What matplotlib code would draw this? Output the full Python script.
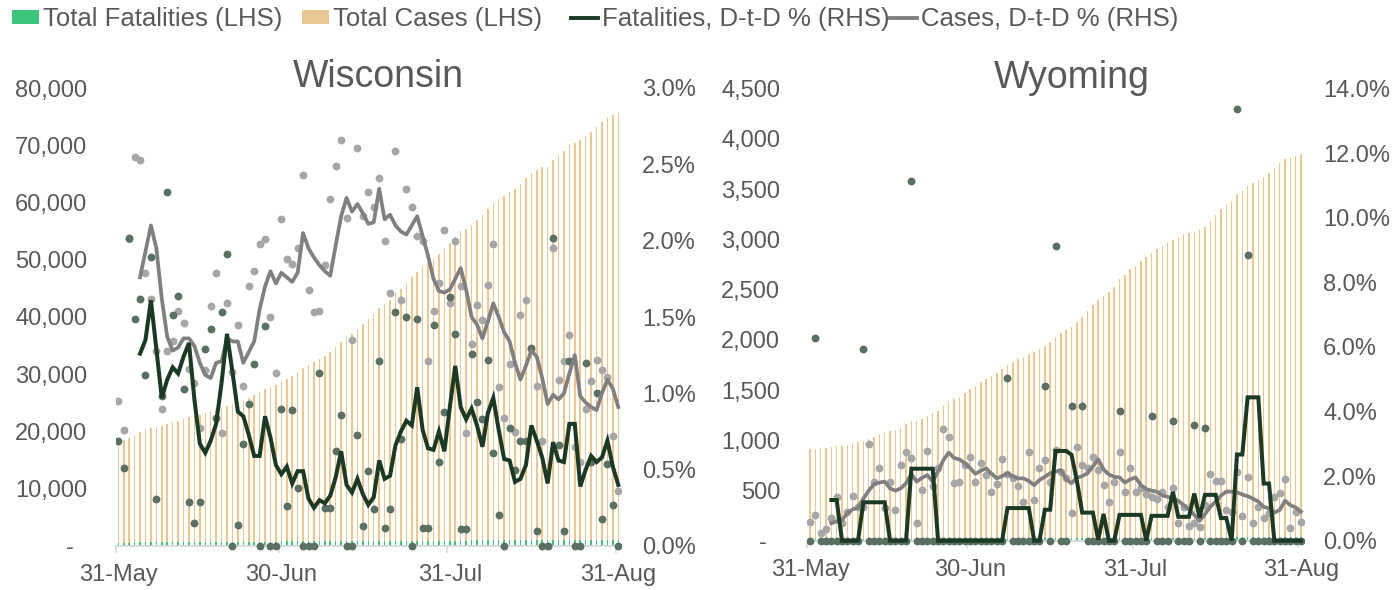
import numpy as np
import pandas as pd
import matplotlib
matplotlib.use("Agg")
import matplotlib.pyplot as plt
from matplotlib.ticker import FuncFormatter, MultipleLocator
from matplotlib.patches import Rectangle, Patch
from matplotlib.lines import Line2D

plt.rcParams['font.family'] = ['Liberation Sans', 'DejaVu Sans']

days = pd.date_range("2020-05-31", "2020-08-31", freq="D")
tick_days = pd.to_datetime(["2020-05-31", "2020-06-30", "2020-07-31", "2020-08-31"])

# ---- Wisconsin ----
wi_cases = [18400, 18540, 18913, 19395, 19886, 20242, 20570, 20833, 21020, 21289,
            21574, 21906, 22226, 22484, 22725, 22900, 23163, 23527, 23948, 24125,
            24509, 24788, 25147, 25411, 25843, 26308, 26829, 27368, 27779, 28093,
            28694, 29233, 29774, 30355, 31093, 31615, 32099, 32593, 33193, 33946,
            34791, 35716, 36484, 36977, 37942, 38762, 39661, 40541, 41518, 42348,
            43051, 44166, 44877, 45927, 46947, 47900, 48858, 49449, 50211, 51075,
            52132, 52961, 54020, 54938, 55345, 56076, 56962, 57805, 58793, 59957,
            60581, 61090, 61817, 62281, 63221, 64239, 65068, 65751, 66205, 66205,
            67496, 68232, 69058, 70011, 70466, 70854, 71492, 72264, 73146, 73987,
            74808, 75347, 75618]
wi_deaths = [592, 595, 607, 616, 626, 633, 645, 647, 653, 668,
             678, 689, 696, 698, 699, 701, 710, 720, 726, 737,
             751, 751, 752, 757, 764, 773, 773, 784, 784, 784,
             791, 793, 800, 803, 803, 803, 803, 812, 814, 816,
             821, 828, 828, 828, 834, 835, 839, 841, 851, 852,
             854, 867, 873, 886, 886, 899, 900, 901, 914, 919,
             927, 942, 955, 956, 957, 969, 978, 986, 998, 1004,
             1006, 1006, 1014, 1019, 1026, 1033, 1046, 1047, 1047, 1047,
             1068, 1075, 1076, 1089, 1089, 1089, 1102, 1108, 1119, 1121,
             1127, 1130, 1130]
wi_case_pct = [0.95, 0.76, 2.01, 2.55, 2.53, 1.79, 1.62, 1.28, 0.90, 1.28,
               1.34, 1.54, 1.46, 1.16, 1.07, 0.77, 1.15, 1.57, 1.79, 0.74,
               1.59, 1.14, 1.45, 1.05, 1.70, 1.80, 1.98, 2.01, 1.50, 1.13,
               2.14, 1.88, 1.85, 1.95, 2.43, 1.68, 1.53, 1.54, 1.84, 2.27,
               2.49, 2.66, 2.15, 1.35, 2.61, 2.16, 2.32, 2.22, 2.41, 2.00,
               1.66, 2.59, 1.61, 2.34, 2.22, 2.03, 2.00, 1.21, 1.54, 1.72,
               2.07, 1.59, 2.00, 1.70, 0.74, 1.32, 1.58, 1.48, 1.71, 1.98,
               1.04, 0.84, 1.19, 0.75, 1.51, 1.61, 1.29, 1.05, 0.69, 0.00,
               1.95, 1.09, 1.21, 1.38, 0.65, 0.55, 0.90, 1.08, 1.22, 1.15,
               1.11, 0.72, 0.36]
wi_death_pct = [0.69, 0.51, 2.02, 1.49, 1.62, 1.12, 1.89, 0.31, 0.98, 2.32,
                1.51, 1.64, 1.03, 0.29, 0.15, 0.29, 1.29, 1.42, 0.84, 1.53,
                1.91, 0.00, 0.14, 0.67, 0.93, 1.19, 0.00, 1.44, 0.00, 0.00,
                0.90, 0.26, 0.89, 0.38, 0.00, 0.00, 0.00, 1.13, 0.25, 0.25,
                0.62, 0.86, 0.00, 0.00, 0.73, 0.13, 0.49, 0.24, 1.21, 0.12,
                0.24, 1.53, 0.70, 1.50, 0.00, 1.49, 0.12, 0.12, 1.45, 0.55,
                0.88, 1.63, 1.39, 0.11, 0.11, 1.26, 0.94, 0.83, 1.22, 0.61,
                0.20, 0.00, 0.77, 0.50, 0.69, 0.69, 1.30, 0.10, 0.00, 0.00,
                2.02, 0.66, 0.10, 1.21, 0.00, 0.00, 1.20, 0.55, 1.00, 0.18,
                0.54, 0.27, 0.00]
# 5-day averages, first value on day 4
wi_case_avg = [1.76, 1.93, 2.10, 1.95, 1.62, 1.37, 1.28, 1.30, 1.36, 1.36,
               1.31, 1.20, 1.12, 1.10, 1.20, 1.21, 1.36, 1.34, 1.34, 1.20,
               1.27, 1.34, 1.55, 1.70, 1.80, 1.72, 1.79, 1.76, 1.73, 1.79,
               2.05, 1.95, 1.89, 1.84, 1.80, 1.77, 1.97, 2.16, 2.28, 2.19,
               2.24, 2.18, 2.11, 2.12, 2.34, 2.14, 2.17, 2.10, 2.06, 2.04,
               2.10, 2.16, 2.03, 1.90, 1.75, 1.67, 1.66, 1.68, 1.75, 1.82,
               1.68, 1.50, 1.45, 1.36, 1.47, 1.59, 1.50, 1.40, 1.34, 1.20,
               1.09, 1.18, 1.28, 1.24, 1.10, 0.93, 0.99, 0.96, 1.00, 1.13,
               1.25, 0.98, 0.94, 0.91, 0.89, 1.00, 1.09, 1.03, 0.91]
wi_death_avg = [1.26, 1.35, 1.61, 1.29, 0.97, 1.09, 1.17, 1.13, 1.24, 1.33,
                0.96, 0.67, 0.61, 0.69, 0.80, 1.07, 1.39, 1.14, 0.88, 0.85,
                0.73, 0.59, 0.59, 0.85, 0.71, 0.53, 0.47, 0.52, 0.41, 0.49,
                0.49, 0.31, 0.25, 0.30, 0.28, 0.33, 0.45, 0.62, 0.40, 0.35,
                0.44, 0.34, 0.27, 0.32, 0.56, 0.44, 0.46, 0.66, 0.75, 0.82,
                0.79, 1.04, 0.76, 0.64, 0.63, 0.75, 0.62, 0.91, 1.18, 0.91,
                0.83, 0.90, 0.79, 0.65, 0.87, 0.97, 0.76, 0.57, 0.56, 0.42,
                0.44, 0.53, 0.79, 0.69, 0.58, 0.41, 0.68, 0.56, 0.55, 0.80,
                0.80, 0.39, 0.50, 0.59, 0.55, 0.58, 0.69, 0.52, 0.40]

# ---- Wyoming ----
wy_cases = [910, 917, 919, 922, 928, 941, 946, 955, 968, 978,
            988, 1017, 1036, 1059, 1070, 1090, 1100, 1126, 1157, 1187,
            1193, 1212, 1246, 1267, 1295, 1340, 1383, 1408, 1434, 1468,
            1506, 1540, 1580, 1612, 1640, 1670, 1712, 1748, 1780, 1810,
            1832, 1860, 1880, 1912, 1940, 1975, 2030, 2065, 2100, 2125,
            2175, 2230, 2290, 2350, 2400, 2440, 2475, 2530, 2610, 2650,
            2700, 2735, 2780, 2825, 2865, 2900, 2935, 2960, 2995, 3025,
            3050, 3062, 3078, 3095, 3125, 3180, 3240, 3300, 3345, 3380,
            3450, 3480, 3535, 3560, 3590, 3620, 3660, 3700, 3760, 3805,
            3815, 3832, 3847]
wy_deaths = [16, 17, 17, 17, 17, 17, 17, 17, 17, 17,
             18, 18, 18, 18, 18, 18, 18, 18, 18, 20,
             20, 20, 20, 20, 20, 20, 20, 20, 20, 20,
             20, 20, 20, 20, 20, 20, 20, 21, 21, 21,
             21, 21, 21, 21, 22, 22, 24, 24, 24, 25,
             24, 25, 25, 25, 25, 25, 25, 25, 26, 26,
             26, 26, 26, 26, 27, 27, 27, 27, 28, 28,
             28, 28, 29, 29, 30, 30, 30, 30, 30, 30,
             34, 34, 37, 37, 37, 37, 37, 37, 37, 37,
             37, 37, 37]
wy_case_pct = [0.59, 0.80, 0.25, 0.35, 0.69, 1.36, 0.55, 0.90, 1.39, 1.05,
               1.05, 2.98, 1.83, 2.26, 1.00, 1.83, 0.95, 2.34, 2.74, 2.55,
               0.54, 1.57, 2.79, 1.70, 2.24, 3.45, 3.20, 1.78, 1.83, 2.34,
               2.58, 1.83, 2.40, 2.05, 1.52, 1.76, 2.52, 2.07, 1.93, 1.69,
               1.21, 2.76, 1.26, 2.24, 2.50, 1.83, 2.80, 2.14, 1.93, 0.87,
               2.89, 2.34, 2.24, 2.60, 2.18, 1.72, 1.21, 1.83, 2.76, 1.52,
               2.24, 1.52, 1.62, 1.45, 1.36, 1.28, 1.52, 1.05, 1.62, 0.54,
               1.05, 0.45, 0.55, 0.43, 1.11, 2.07, 1.85, 1.86, 0.94, 0.88,
               2.14, 0.77, 1.96, 0.56, 1.03, 0.71, 0.85, 1.36, 1.47, 1.90,
               0.40, 0.90, 0.57]
wy_death_pct = [0, 6.28, 0, 0, 0, 0, 0, 0, 0, 0,
                5.94, 0, 0, 0, 0, 0, 0, 0, 0, 11.14,
                0, 0, 0, 0, 0, 0, 0, 0, 0, 0,
                0, 0, 0, 0, 0, 0, 0, 5.04, 0, 0,
                0, 0, 0, 0, 4.79, 0, 9.12, 0, 0, 4.17,
                -4.00, 4.17, 0, 0, 0, 0, 0, 0, 4.02, 0,
                0, 0, 0, 0, 3.86, 0, 0, 0, 3.72, 0,
                0, 0, 3.58, 0, 3.48, 0, 0, 0, 0, 0,
                13.37, 0, 8.84, 0, 0, 0, 0, 0, 0, 0,
                0, 0, 0]
wy_case_avg = [0.54, 0.60, 0.64, 0.85, 0.97, 1.02, 1.30, 1.55, 1.75, 1.80,
               1.83, 1.62, 1.55, 1.62, 1.78, 2.07, 1.83, 1.95, 2.03, 1.83,
               2.15, 2.50, 2.73, 2.56, 2.52, 2.40, 2.25, 2.07, 2.17, 2.24,
               2.08, 1.93, 2.00, 2.09, 2.00, 1.93, 1.93, 1.85, 1.72, 1.88,
               1.98, 2.09, 2.14, 2.19, 1.90, 1.78, 1.95, 2.00, 2.09, 2.30,
               2.52, 2.21, 2.05, 1.98, 1.96, 1.80, 1.90, 1.96, 1.72, 1.60,
               1.55, 1.52, 1.40, 1.36, 1.31, 1.24, 1.10, 0.97, 0.80, 0.62,
               0.82, 1.05, 1.21, 1.40, 1.52, 1.52, 1.50, 1.43, 1.38, 1.30,
               1.21, 1.05, 1.00, 0.87, 0.95, 1.24, 1.10, 1.03, 0.90]
wy_death_avg = [1.26, 1.26, 0, 0, 0, 0, 1.19, 1.19, 1.19, 1.19,
                1.19, 0, 0, 0, 0, 2.23, 2.23, 2.23, 2.23, 2.23,
                0, 0, 0, 0, 0, 0, 0, 0, 0, 0,
                0, 0, 0, 1.01, 1.01, 1.01, 1.01, 1.01, 0, 0,
                0.96, 0.96, 2.78, 2.78, 2.78, 2.66, 1.86, 0.87, 0.87, 0.87,
                0.03, 0.83, 0, 0, 0.80, 0.80, 0.80, 0.80, 0.80, 0,
                0.77, 0.77, 0.77, 0.77, 1.51, 0.74, 0.74, 0.74, 1.46, 0.72,
                1.42, 1.42, 1.42, 0.70, 0.70, 0, 2.67, 2.67, 4.44, 4.44,
                4.44, 1.77, 1.77, 0, 0, 0, 0, 0, 0]

TXT = '#595959'
AXIS = '#D9D9D9'
C_FAT_BAR = '#3EC57D'
C_CASE_BAR = '#EFC68E'
C_CASE_LEG = '#E9C794'
C_FAT_DOT = '#5A7062'
C_CASE_DOT = '#A6A6A6'
C_FAT_LINE = '#1B3A24'
C_CASE_LINE = '#808080'

W, H = 1396, 590
fig = plt.figure(figsize=(W / 100, H / 100), dpi=100)


def px_rect(l, t, r, b):
    return [l / W, (H - b) / H, (r - l) / W, (b - t) / H]


def panel(rect, title, title_xy, cases, deaths, case_pct, death_pct, case_avg, death_avg,
          lmax, lstep, rmax, rstep, lpad, rpad):
    x = np.arange(len(days))
    ax = fig.add_axes(rect)
    ax.bar(x, cases, width=0.28, color=C_CASE_BAR, zorder=1)
    ax.bar(x, deaths, width=0.28, color=C_FAT_BAR, zorder=2)
    ax.set_xlim(-0.5, len(days) - 0.5)
    ax.set_ylim(0, lmax)
    ax.yaxis.set_major_locator(MultipleLocator(lstep))
    ax.yaxis.set_major_formatter(FuncFormatter(lambda v, p: '-  ' if v == 0 else f'{v:,.0f}'))
    ax.tick_params(axis='y', length=0, pad=lpad, labelsize=17, labelcolor=TXT)

    pos = np.array([days.get_loc(d) for d in tick_days])
    ax.set_xticks(pos - 0.5)
    ax.set_xticklabels([])
    ax.set_xticks(pos, minor=True)
    ax.set_xticklabels([d.strftime('%d-%b') for d in tick_days], minor=True)
    ax.tick_params(axis='x', which='major', length=5, width=1.2, color=AXIS)
    ax.tick_params(axis='x', which='minor', length=0, pad=13, labelsize=17, labelcolor=TXT)
    for s in ('top', 'left', 'right'):
        ax.spines[s].set_visible(False)
    ax.spines['bottom'].set_color(AXIS)
    ax.spines['bottom'].set_linewidth(1.3)

    ax2 = ax.twinx()
    ax2.set_ylim(0, rmax)
    ax2.yaxis.set_major_locator(MultipleLocator(rstep))
    ax2.yaxis.set_major_formatter(FuncFormatter(lambda v, p: f'{v:.1f}%'))
    ax2.tick_params(axis='y', length=0, pad=rpad, labelsize=17, labelcolor=TXT)
    for s in ax2.spines.values():
        s.set_visible(False)

    # let zero-valued dots show whole, but hide anything below the axis
    for vals, col, z in ((case_pct, C_CASE_DOT, 3), (death_pct, C_FAT_DOT, 4)):
        sc = ax2.scatter(x, vals, s=32, color=col, linewidths=0, zorder=z)
        sc.set_clip_path(Rectangle((0, -0.03), 1, 1.06, transform=ax2.transAxes))
    ax2.plot(x[4:], case_avg, color=C_CASE_LINE, lw=2.7, zorder=5, clip_on=False)
    ax2.plot(x[4:], death_avg, color=C_FAT_LINE, lw=2.9, zorder=6, clip_on=False,
             solid_joinstyle='miter')

    fig.text(title_xy[0] / W, 1 - title_xy[1] / H, title, ha='center', va='baseline',
             fontsize=27, color=TXT)


panel(px_rect(115.6, 88, 621, 546), 'Wisconsin', (378, 87),
      wi_cases, wi_deaths, wi_case_pct, wi_death_pct, wi_case_avg, wi_death_avg,
      80000, 10000, 3.0, 0.5, 20.5, 15)
panel(px_rect(807.3, 88.7, 1303.7, 540.7), 'Wyoming', (1072, 88),
      wy_cases, wy_deaths, wy_case_pct, wy_death_pct, wy_case_avg, wy_death_avg,
      4500, 500, 14.0, 2.0, 19.5, 14)

# legend row along the top, one entry at a time so each sits where it should
legend_items = [
    (Patch(facecolor=C_FAT_BAR), 'Total Fatalities (LHS)', 12),
    (Patch(facecolor=C_CASE_LEG), 'Total Cases (LHS)', 302),
    (Line2D([], [], color=C_FAT_LINE, lw=2.8), 'Fatalities, D-t-D % (RHS)', 571),
    (Line2D([], [], color=C_CASE_LINE, lw=2.8), 'Cases, D-t-D % (RHS)', 890),
]
for handle, label, xpx in legend_items:
    fig.legend([handle], [label], loc='center left', bbox_to_anchor=(xpx / W, 1 - 19 / H),
               frameon=False, borderpad=0, borderaxespad=0, handlelength=1.05,
               handleheight=0.45, handletextpad=0.15, fontsize=18.5, labelcolor=TXT)

fig.savefig('out.png', dpi=100)
